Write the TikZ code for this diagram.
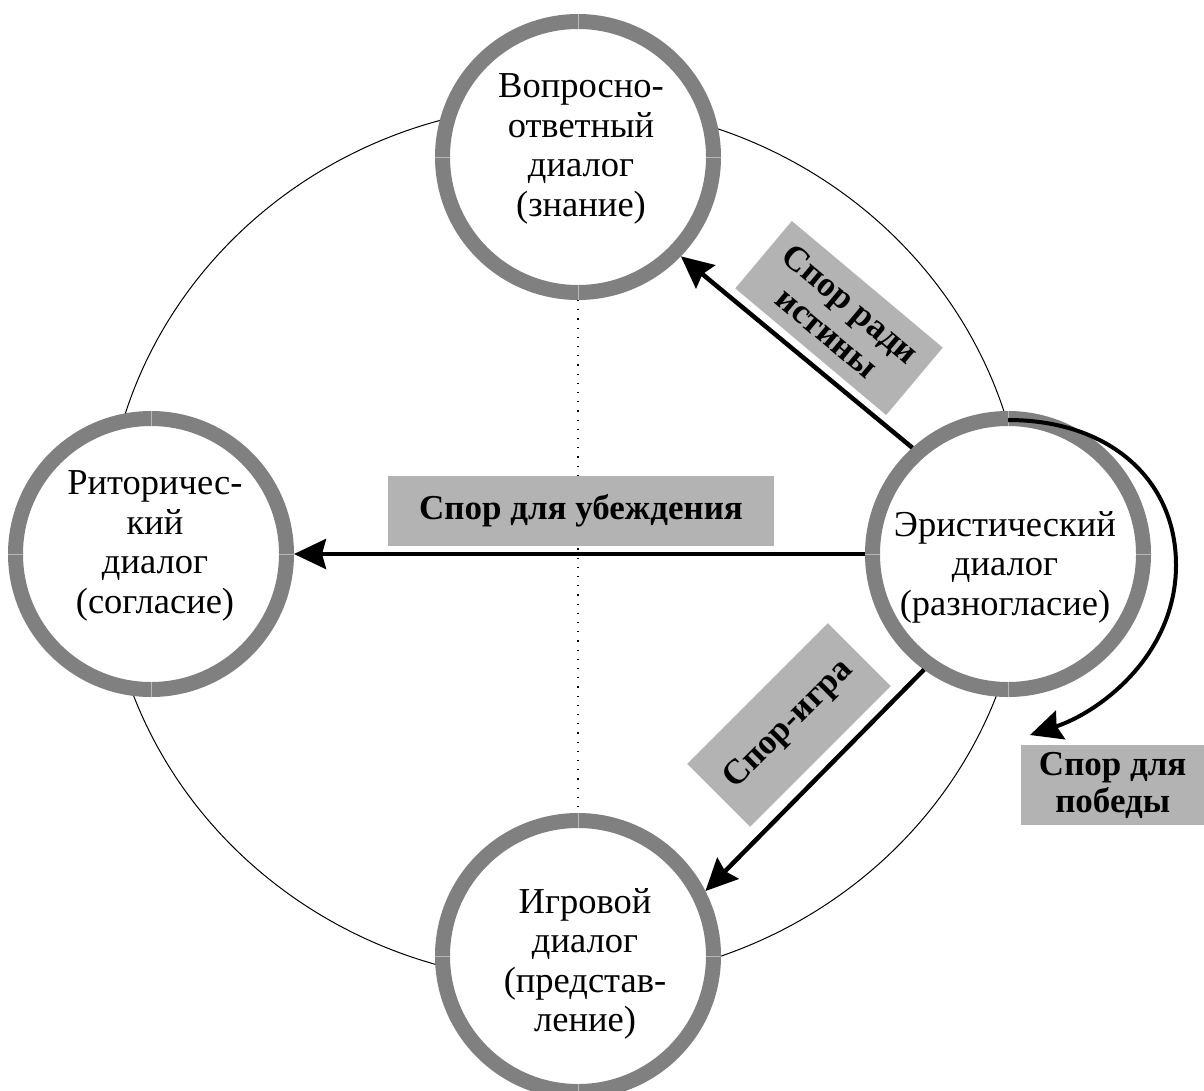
\documentclass[tikz,border=0pt]{standalone}
\usepackage{fontspec}
\setmainfont{Liberation Serif}
\usetikzlibrary{arrows.meta}
\definecolor{ringgray}{HTML}{808080}
\definecolor{boxgray}{HTML}{B3B3B3}
\definecolor{sepgray}{HTML}{B8B8B8}
\begin{document}
\begin{tikzpicture}[x=1pt,y=-1pt,
  ring/.style={circle, draw=ringgray, line width=15pt, fill=white, minimum size=271pt, inner sep=0pt},
  ctext/.style={align=center, font=\fontsize{36.5}{39.5}\selectfont, inner sep=0pt},
  lbox/.style={fill=boxgray, font=\bfseries\fontsize{35}{37}\selectfont, inner sep=0pt},
  arr/.style={line width=4.5pt, -{Stealth[length=32pt,width=30pt,inset=4pt]}},
  sepl/.style={draw=sepgray, line width=0.8pt},
  dotl/.style={line width=1.2pt, dash pattern=on 1.2pt off 8pt},
]
\useasboundingbox (0,0) rectangle (1204,1090);
\draw[line width=1pt] (565,543) ellipse [x radius=460pt, y radius=439pt];

\node[ring] (T) at (578,157) {};
\node[ring] (L) at (151,554) {};
\node[ring] (R) at (1008,554) {};
\node[ring] (B) at (578,956) {};

\draw[dotl] (T.south) -- (B.north);

\foreach \n in {T,L,R,B}
  \foreach \a in {0,90,180,270}
    \draw[sepl] (\n.center) ++(\a:128) -- ++(\a:15);

\node[ctext] (tT) at (581,149) {Вопросно-\\ответный\\диалог\\(знание)};
\node[ctext] (tL) at (155,546) {Риторичес-\\кий\\диалог\\(согласие)};
\node[ctext] (tR) at (1005,567) {Эристический\\диалог\\(разногласие)};
\node[ctext] (tB) at (585,964) {Игровой\\диалог\\(представ-\\ление)};

\draw[arr] (R.132) -- (T.-44);
\draw[arr] (R.180) -- (L.0);
\draw[arr] (R.234) -- (B.27);

\coordinate (cs) at (1008,420);
\coordinate (ce) at (1030,735);
\draw[line width=4pt, -{Stealth[length=32pt,width=30pt,inset=4pt]}] (cs) .. controls (1110,420) and (1176,480) .. (1176,565) .. controls (1176,655) and (1100,712) .. (ce);

\node[lbox, minimum width=386pt, minimum height=70pt] (l1) at (581,511) {Спор для убеждения\hspace{20pt}};
\node[lbox, minimum width=197pt, minimum height=88pt, rotate=-40, align=center] (l2) at (839,318) {Спор ради\\истины};
\node[lbox, minimum width=199pt, minimum height=89pt, rotate=45] (l3) at (789,725) {Спор-игра};
\node[lbox, minimum width=183pt, minimum height=80pt, align=center, anchor=north west] (l4) at (1021,745) {Спор для\\победы};
\end{tikzpicture}
\end{document}
